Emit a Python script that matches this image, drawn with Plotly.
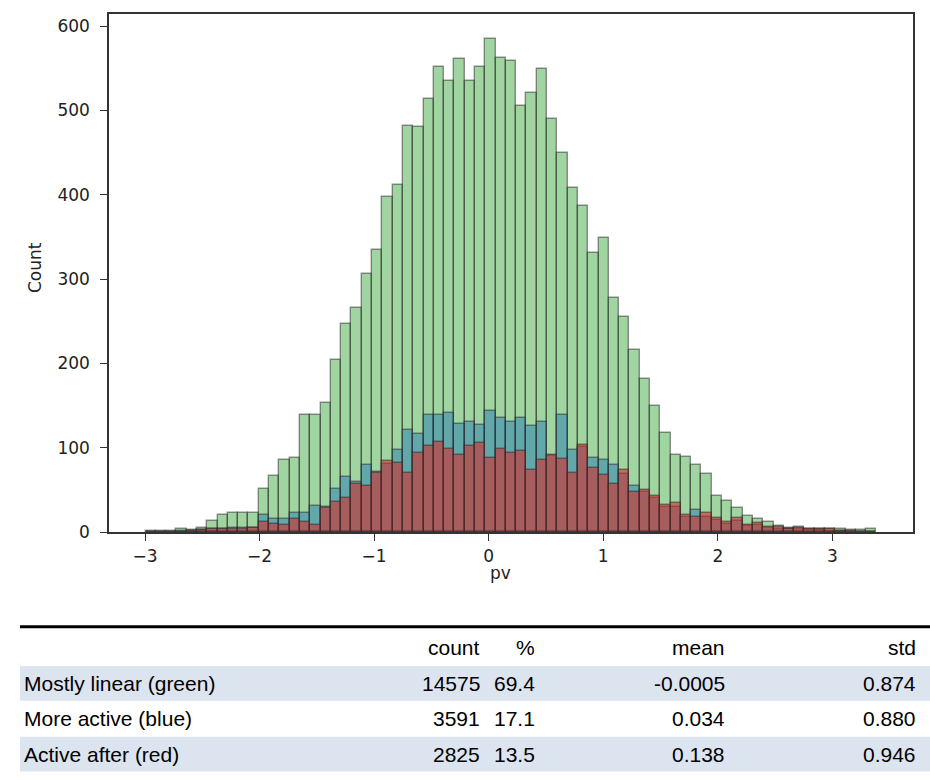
import numpy as np
import plotly.graph_objects as go

# ---- histogram data: shared bin range and per-group counts ----
BIN_LO = -2.9957
BIN_HI = 3.385
N_BINS = 71

green_counts = [1, 1, 1, 3, 2, 5, 13, 20, 23, 23, 23,
                51, 66, 85, 88, 139, 139, 153, 204, 247, 266,
                306, 334, 397, 411, 482, 480, 513, 552, 535, 561,
                535, 552, 585, 562, 558, 505, 520, 549, 490, 450,
                408, 386, 331, 349, 278, 255, 216, 182, 150, 117,
                91, 89, 80, 69, 43, 37, 28, 19, 15, 12,
                7, 5, 6, 4, 4, 4, 3, 2, 2, 4]

blue_counts = [0, 0, 0, 1, 1, 2, 3, 4, 5, 5, 5,
               20, 16, 15, 22, 22, 31, 30, 51, 65, 59,
               79, 71, 81, 97, 121, 116, 139, 139, 141, 128,
               130, 127, 144, 135, 130, 135, 126, 130, 90, 139,
               97, 101, 88, 85, 79, 69, 54, 47, 40, 30,
               30, 18, 26, 18, 14, 10, 13, 7, 8, 5,
               4, 3, 3, 2, 2, 1, 1, 0, 0, 0]

red_counts = [0, 0, 0, 0, 1, 2, 3, 4, 4, 4, 5,
              12, 9, 8, 15, 12, 8, 29, 36, 40, 57,
              54, 70, 84, 82, 70, 94, 102, 107, 99, 91,
              102, 105, 88, 99, 94, 96, 74, 85, 91, 87,
              70, 103, 76, 68, 57, 73, 48, 50, 43, 32,
              34, 20, 18, 22, 17, 12, 17, 8, 11, 6,
              6, 4, 5, 4, 3, 3, 1, 1, 0, 0]

# ---- summary table ----
group_names = ["Mostly linear (green)", "More active (blue)", "Active after (red)"]
table_headers = ["count", "%", "mean", "std"]
group_sizes = [14575, 3591, 2825]
group_means = ["-0.0005", "0.034", "0.138"]
group_stds = ["0.874", "0.880", "0.946"]

edges = np.linspace(BIN_LO, BIN_HI, N_BINS + 1)
centers = (edges[:-1] + edges[1:]) / 2
bin_w = edges[1] - edges[0]

fill = {
    "green": "rgba(44,160,44,0.45)",
    "blue": "rgba(31,119,180,0.48)",
    "red": "rgba(214,39,40,0.58)",
}
edge_col = "rgba(40,40,40,0.5)"

fig = go.Figure()
for counts, key in [(green_counts, "green"), (blue_counts, "blue"), (red_counts, "red")]:
    fig.add_trace(go.Bar(
        x=centers, y=counts, width=bin_w,
        marker=dict(color=fill[key], line=dict(color=edge_col, width=1.4)),
        showlegend=False, hoverinfo="x+y",
    ))

W, H = 930, 780
L, R, T, B = 109, 913, 12, 532          # plot area in pixels


def px(xp):
    return (xp - L) / (R - L)


def py(yp):
    return (B - yp) / (B - T)


axis_font = dict(family="DejaVu Sans", size=17, color="#222222")
common_axis = dict(
    showgrid=False, zeroline=False, showline=True, mirror=True,
    linecolor="#333333", linewidth=1.5,
    ticks="outside", ticklen=7, tickwidth=1.4, tickcolor="#333333",
    tickfont=axis_font,
)

x_min = min(edges)
x_max = max(edges)
span = x_max - x_min
fig.update_xaxes(range=[x_min - 0.05 * span, x_max + 0.05 * span],
                 tickmode="array", tickvals=[-3, -2, -1, 0, 1, 2, 3],
                 ticklabelstandoff=1, **common_axis)
y_top = max(green_counts) * 1.05
fig.update_yaxes(range=[0, y_top], tickmode="array",
                 tickvals=[0, 100, 200, 300, 400, 500, 600],
                 ticklabelstandoff=7, **common_axis)

annotations = [
    dict(x=px(500), y=py(573), xref="paper", yref="paper", text="pv",
         showarrow=False, xanchor="center", yanchor="middle", font=axis_font),
    dict(x=px(35), y=py(267), xref="paper", yref="paper", text="Count",
         showarrow=False, xanchor="center", yanchor="middle", textangle=-90,
         font=axis_font),
]

# table: thick top rule, shaded bands, text cells
table_font = dict(family="Liberation Sans, Arial", size=21, color="#000000")
shapes = [dict(type="line", xref="paper", yref="paper",
               x0=px(20), x1=px(930), y0=py(627), y1=py(627),
               line=dict(color="#000000", width=3))]
row_y = [684, 719, 755]
band_h = 35
for i, yc in enumerate(row_y):
    if i % 2 == 0:
        shapes.append(dict(type="rect", xref="paper", yref="paper",
                           x0=px(20), x1=px(930),
                           y0=py(yc + band_h / 2), y1=py(yc - band_h / 2),
                           fillcolor="#dce4f0", line=dict(width=0), layer="below"))

col_right = [482, 537, 727, 918]
header_y = 648
for hx, htxt in zip(col_right, table_headers):
    annotations.append(dict(x=px(hx), y=py(header_y), xref="paper", yref="paper",
                            text=htxt, showarrow=False, xanchor="right",
                            yanchor="middle", font=table_font))

total = sum(group_sizes)
for i, name in enumerate(group_names):
    yc = row_y[i]
    cells = [str(group_sizes[i]), f"{100 * group_sizes[i] / total:.1f}",
             group_means[i], group_stds[i]]
    annotations.append(dict(x=px(22), y=py(yc), xref="paper", yref="paper",
                            text=name, showarrow=False, xanchor="left",
                            yanchor="middle", font=table_font))
    for cx, ctxt in zip(col_right, cells):
        annotations.append(dict(x=px(cx), y=py(yc), xref="paper", yref="paper",
                                text=ctxt, showarrow=False, xanchor="right",
                                yanchor="middle", font=table_font))

fig.update_layout(
    width=W, height=H,
    margin=dict(l=L, r=W - R, t=T, b=H - B, pad=0),
    barmode="overlay", bargap=0,
    plot_bgcolor="white", paper_bgcolor="white",
    shapes=shapes, annotations=annotations,
)

fig.write_html("out.html")
